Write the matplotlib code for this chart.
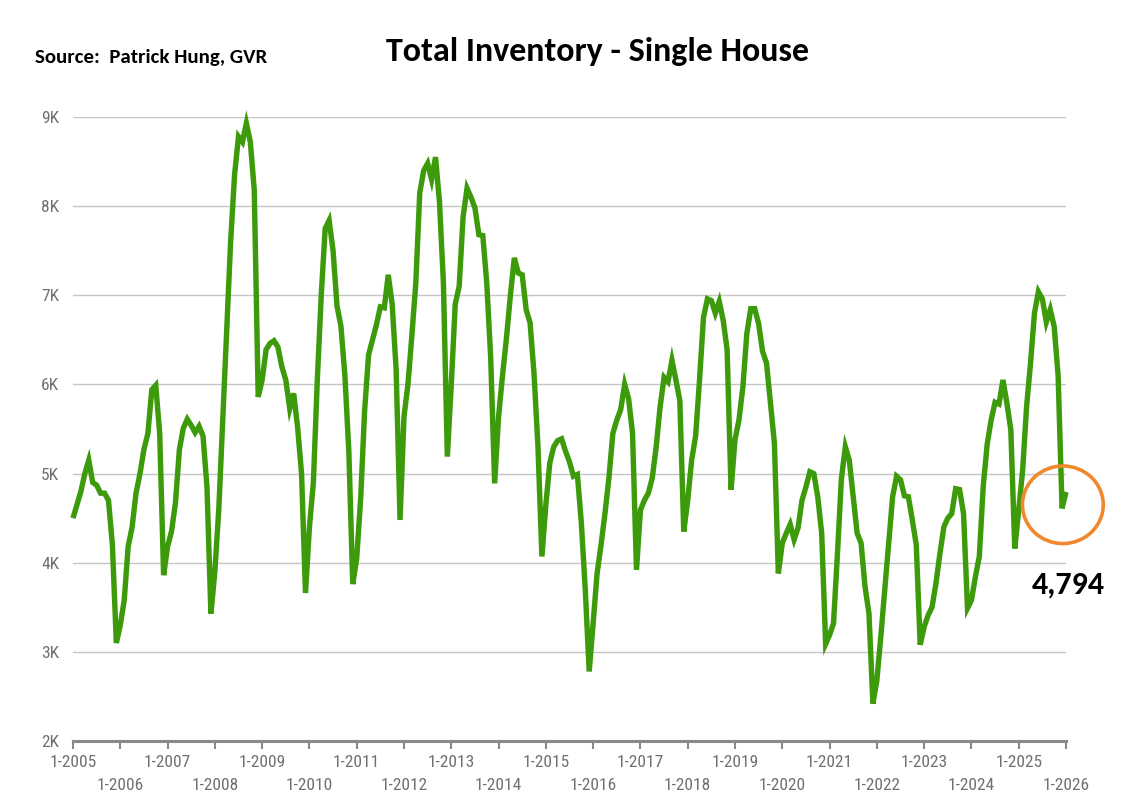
import numpy as np
import matplotlib
matplotlib.use("Agg")
import matplotlib.pyplot as plt
import matplotlib.font_manager as fm
from matplotlib.patches import Ellipse

# ---------------- data ----------------
start_year = 2005
end_year = 2026
# monthly total inventory, Jan-2005 .. Jan-2026
inventory = [
    4500, 4650, 4800, 5000, 5150, 4900, 4870, 4780, 4780, 4700, 4200, 3100,   # 2005
    3300, 3580, 4180, 4400, 4780, 5000, 5270, 5450, 5940, 5990, 5450, 3860,   # 2006
    4180, 4350, 4670, 5270, 5510, 5610, 5540, 5460, 5530, 5420, 4850, 3430,   # 2007
    3900, 4600, 5600, 6600, 7600, 8350, 8780, 8720, 8930, 8720, 8180, 5860,   # 2008
    6050, 6390, 6460, 6490, 6420, 6200, 6050, 5730, 5900, 5520, 5000, 3660,   # 2009
    4400, 4900, 6050, 7000, 7750, 7840, 7500, 6880, 6650, 6100, 5250, 3760,   # 2010
    4050, 4720, 5700, 6330, 6500, 6670, 6870, 6860, 7230, 6900, 6170, 4480,   # 2011
    5640, 6000, 6550, 7140, 8150, 8400, 8480, 8300, 8550, 8050, 7140, 5190,   # 2012
    6000, 6900, 7100, 7880, 8200, 8100, 7980, 7680, 7670, 7140, 6300, 4890,   # 2013
    5640, 6100, 6520, 7000, 7420, 7250, 7230, 6840, 6690, 6120, 5300, 4070,   # 2014
    4650, 5120, 5300, 5370, 5390, 5250, 5130, 4970, 4990, 4450, 3700, 2780,   # 2015
    3320, 3880, 4200, 4550, 4950, 5450, 5600, 5720, 6000, 5840, 5450, 3920,   # 2016
    4590, 4700, 4780, 4950, 5300, 5750, 6080, 6030, 6270, 6050, 5820, 4350,   # 2017
    4700, 5150, 5420, 6050, 6750, 6960, 6940, 6800, 6930, 6720, 6390, 4820,   # 2018
    5380, 5600, 5970, 6570, 6850, 6850, 6680, 6370, 6240, 5790, 5340, 3880,   # 2019
    4220, 4330, 4430, 4260, 4390, 4700, 4850, 5020, 5000, 4740, 4330, 3090,   # 2020
    3190, 3320, 4100, 4940, 5300, 5150, 4740, 4330, 4220, 3730, 3430, 2420,   # 2021
    2680, 3170, 3690, 4220, 4740, 4970, 4930, 4750, 4740, 4480, 4200, 3080,   # 2022
    3280, 3410, 3500, 3770, 4100, 4400, 4500, 4550, 4830, 4820, 4550, 3490,   # 2023
    3580, 3840, 4070, 4860, 5330, 5600, 5800, 5780, 6050, 5790, 5490, 4160,   # 2024
    4590, 5040, 5750, 6240, 6800, 7040, 6960, 6700, 6840, 6650, 6100, 4610,   # 2025
    4794,                                                                       # 2026
]
y_ticks = [2000, 3000, 4000, 5000, 6000, 7000, 8000, 9000]
y_tick_labels = ["2K", "3K", "4K", "5K", "6K", "7K", "8K", "9K"]
x_years = list(range(start_year, end_year + 1))
x_tick_labels = [f"1-{y}" for y in x_years]
title_text = "Total Inventory - Single House"
source_text = "Source:  Patrick Hung, GVR"
last_label = "4,794"

# ---------------- fonts ----------------
_avail = {f.name for f in fm.fontManager.ttflist}


def pick(names):
    for n in names:
        if n in _avail:
            return n
    return "DejaVu Sans"


narrow_font = pick(["Liberation Sans Narrow", "DejaVu Sans Condensed", "Roboto Condensed",
                    "Liberation Sans", "DejaVu Sans"])
bold_font = pick(["Carlito", "Lato", "Open Sans", "Noto Sans", "DejaVu Sans"])

# ---------------- figure ----------------
W, H = 1130, 811
fig = plt.figure(figsize=(W / 100, H / 100), dpi=100)
fig.patch.set_facecolor("white")
ax = fig.add_axes([73 / W, 1 - 741 / H, (1066 - 73) / W, (741 - 117) / H])

x = np.arange(len(inventory))
green = "#3d9a0b"
ax.plot(x, inventory, color=green, lw=3.9, solid_joinstyle="miter",
        solid_capstyle="butt", clip_on=False, zorder=3)

ax.set_xlim(0, (end_year - start_year) * 12)
ax.set_ylim(2000, 9000)

# horizontal gridlines
for v in y_ticks[1:]:
    ax.axhline(v, color="#c6c6c6", lw=1.0, zorder=1)

for s in ["top", "right", "left"]:
    ax.spines[s].set_visible(False)
ax.spines["bottom"].set_color("#8a8a8a")
ax.spines["bottom"].set_linewidth(2.2)
ax.spines["bottom"].set_zorder(2)

ax.set_yticks(y_ticks)
ax.set_yticklabels(y_tick_labels)
ax.tick_params(axis="y", length=0, pad=10, labelsize=12.5, labelcolor="#707070")
for t in ax.get_yticklabels():
    t.set_fontfamily(narrow_font)

pos = [(y - start_year) * 12 for y in x_years]
even_pos = pos[0::2]
odd_pos = pos[1::2]
ax.set_xticks(even_pos)
ax.set_xticklabels(x_tick_labels[0::2])
ax.set_xticks(odd_pos, minor=True)
ax.set_xticklabels(x_tick_labels[1::2], minor=True)
ax.tick_params(axis="x", which="both", direction="out", length=6, width=1.5,
               color="#8a8a8a", labelsize=12.5, labelcolor="#707070")
ax.tick_params(axis="x", which="major", pad=4)
ax.tick_params(axis="x", which="minor", pad=21)
for t in ax.get_xticklabels(minor=False) + ax.get_xticklabels(minor=True):
    t.set_fontfamily(narrow_font)

# titles
fig.text(598 / W, 1 - 52 / H, title_text, ha="center", va="center",
         fontsize=24.5, fontweight="bold", fontfamily=bold_font, color="black")
fig.text(35 / W, 1 - 57 / H, source_text, ha="left", va="center",
         fontsize=15, fontweight="bold", fontfamily=bold_font, color="black")

# highlight circle and value annotation
last_i = len(inventory) - 1
ell = Ellipse((last_i - 0.8, 4650), width=20.5, height=870, fill=False,
              edgecolor="#f0892e", lw=2.6, clip_on=False, zorder=4)
ax.add_patch(ell)
ax.text(last_i + 0.5, 3760, last_label, ha="center", va="center",
        fontsize=23, fontweight="bold", fontfamily=bold_font, color="black",
        clip_on=False)

fig.savefig("out.png", dpi=100, facecolor="white")
